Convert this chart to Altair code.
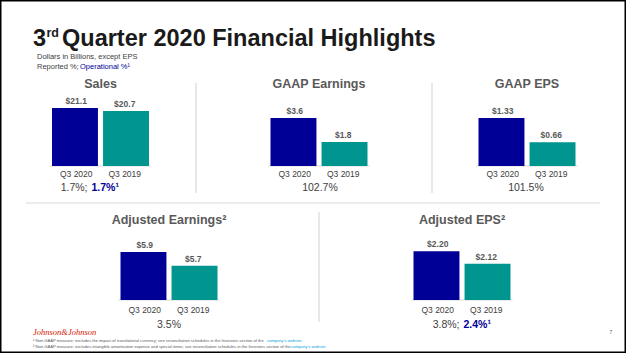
import altair as alt
import pandas as pd

# ---------------- data ----------------
panels = ["Sales", "GAAP Earnings", "GAAP EPS", "Adjusted Earnings²", "Adjusted EPS²"]
periods = ["Q3 2020", "Q3 2019"]
q3_2020 = [21.1, 3.6, 1.33, 5.9, 2.20]
q3_2019 = [20.7, 1.8, 0.66, 5.7, 2.12]
labels_2020 = ["$21.1", "$3.6", "$1.33", "$5.9", "$2.20"]
labels_2019 = ["$20.7", "$1.8", "$0.66", "$5.7", "$2.12"]
reported = ["1.7%", "102.7%", "101.5%", "3.5%", "3.8%"]
operational = ["1.7%¹", "", "", "", "2.4%¹"]
axis_lo = [13.4, 0.0, 0.0, 5.2, 1.89]
axis_hi = [22.7, 5.25, 1.94, 6.22, 2.335]

title_main = "Quarter 2020 Financial Highlights"
sub1 = "Dollars in Billions, except EPS"
sub2a = "Reported %; "
sub2b = "Operational %¹"
foot1 = "¹ Non-GAAP measure; excludes the impact of translational currency; see reconciliation schedules in the Investors section of the"
foot2 = "² Non-GAAP measure; excludes intangible amortization expense and special items; see reconciliation schedules in the Investors section of the"
link = "company's website"

# ---------------- styling / layout ----------------
FONT = "Liberation Sans"
NAVY = "#000096"
TEAL = "#00958F"
GRAY = "#595959"
DARK = "#404040"
SEP = "#D9D9D9"

centers = [100.5, 319, 527, 169, 462]
growth_x = [89, 320, 526, 169, 461]
bottoms = [166, 166, 166, 300, 300]
tops = [96, 96, 96, 230, 230]
title_y = [84, 84, 84, 220, 220]
cat_y = [174, 174, 174, 310, 310]
pct_y = [188, 188, 188, 325, 325]
HALF = 48.5


def txt(s, x, y, size, color=DARK, weight="normal", align="left",
        font=FONT, style="normal", baseline="middle"):
    return alt.Chart(pd.DataFrame({"t": [s]})).mark_text(
        align=align, baseline=baseline, fontSize=size, fontWeight=weight,
        color=color, font=font, fontStyle=style
    ).encode(x=alt.value(x), y=alt.value(y), text="t:N")


def rule(x1, y1, x2, y2, color=SEP, w=1.2):
    return alt.Chart(pd.DataFrame({"t": [0]})).mark_rule(color=color, strokeWidth=w).encode(
        x=alt.value(x1), y=alt.value(y1), x2=alt.value(x2), y2=alt.value(y2))


def panel(i):
    df = pd.DataFrame({
        "period": periods,
        "value": [q3_2020[i], q3_2019[i]],
        "label": [labels_2020[i], labels_2019[i]],
    })
    c = centers[i]
    x = alt.X("period:N", sort=periods, axis=None,
              scale=alt.Scale(domain=periods, range=[c - HALF, c + HALF],
                              paddingInner=0.1, paddingOuter=0))
    y = alt.Y("value:Q", axis=None,
              scale=alt.Scale(domain=[axis_lo[i], axis_hi[i]],
                              range=[bottoms[i], tops[i]], zero=False, nice=False))
    base = alt.Chart(df)
    bars = base.mark_bar().encode(
        x=x, y=y, y2=alt.datum(axis_lo[i]),
        color=alt.Color("period:N", scale=alt.Scale(domain=periods, range=[NAVY, TEAL]),
                        legend=None))
    vals = base.mark_text(dy=-7, fontSize=8.5, fontWeight="bold", color=GRAY,
                          font=FONT, baseline="middle").encode(x=x, y=y, text="label:N")
    cats = base.mark_text(fontSize=8.5, color=DARK, font=FONT, baseline="middle").encode(
        x=x, y=alt.value(cat_y[i]), text="period:N")
    line = rule(c - HALF - 2, bottoms[i], c + HALF + 2, bottoms[i], w=1)
    return [line, bars, vals, cats]


layers = []
for i in range(5):
    layers += panel(i)

static = []
# header
static.append(txt("3", 33, 46, 23.5, color="#1A1A1A", weight="bold", baseline="alphabetic"))
static.append(txt("rd", 46.5, 37, 12.5, color="#1A1A1A", weight="bold", baseline="alphabetic"))
static.append(txt(title_main, 62, 46, 23.5, color="#1A1A1A", weight="bold", baseline="alphabetic"))
static.append(txt(sub1, 37, 57, 7.5, color=DARK))
static.append(txt(sub2a, 37, 67, 7.5, color=DARK))
static.append(txt(sub2b, 80, 67, 7.5, color=NAVY))

# panel titles and growth text
for i in range(5):
    static.append(txt(panels[i], centers[i], title_y[i], 12.5, color=GRAY,
                      weight="bold", align="center"))
    if operational[i]:
        static.append(txt(reported[i] + ";", growth_x[i] - 1.5, pct_y[i], 10.5,
                          color=DARK, align="right"))
        static.append(txt(operational[i], growth_x[i] + 2.5, pct_y[i], 10.5,
                          color=NAVY, weight="bold", align="left"))
    else:
        static.append(txt(reported[i], growth_x[i], pct_y[i], 10.5, color=DARK,
                          align="center"))

# separators
static.append(rule(196, 83, 196, 193))
static.append(rule(432, 83, 432, 193))
static.append(rule(26, 203, 600, 203))
static.append(rule(319, 212, 319, 322))

# footer
static.append(txt("Johnson&Johnson", 33, 332, 8.5, color="#D51900",
                  font="Liberation Serif", style="italic"))
static.append(txt(foot1, 33, 341, 4.1, color="#595959"))
static.append(txt(link, 267, 341, 4.1, color="#00A3E0"))
static.append(txt(foot2, 33, 347, 4.1, color="#595959"))
static.append(txt(link, 291, 347, 4.1, color="#00A3E0"))
static.append(txt("7", 611, 332, 5, color=GRAY, align="center"))

chart = alt.layer(*layers, *static).resolve_scale(
    x="independent", y="independent"
).properties(
    width=626, height=353,
    autosize=alt.AutoSizeParams(type="none"),
    padding=0,
    background="white",
).configure_view(stroke="black", strokeWidth=3)

chart.save("out.html", embed_options={"renderer": "svg", "actions": False})
